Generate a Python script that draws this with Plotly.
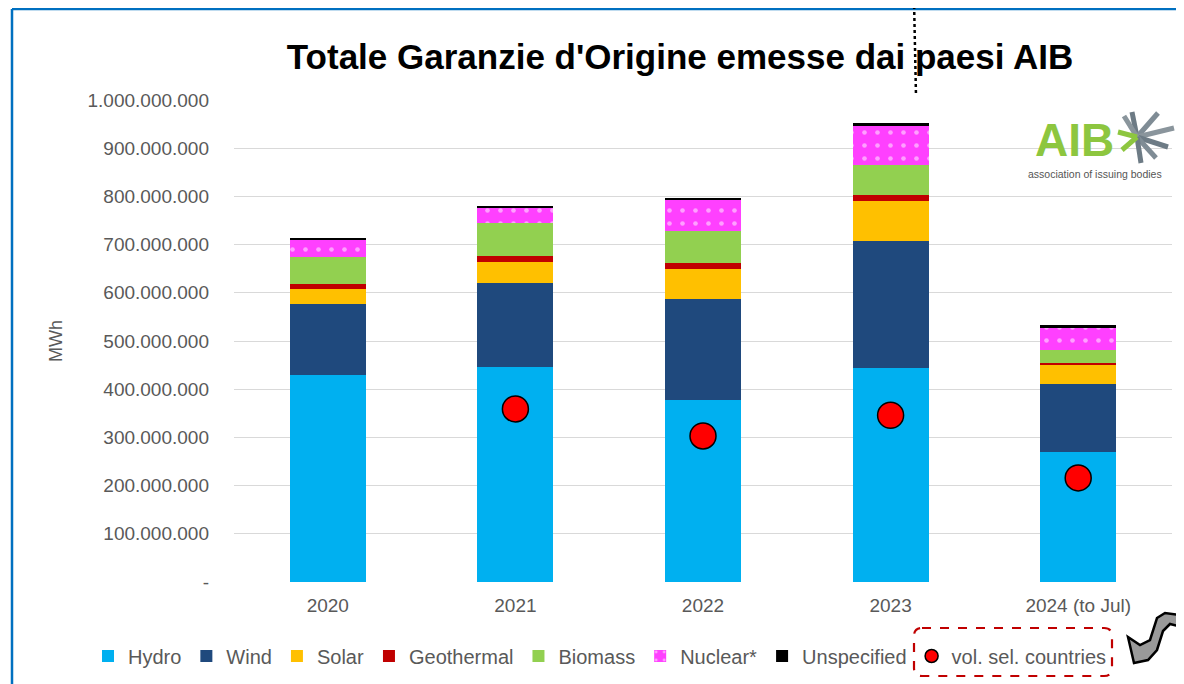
import plotly.graph_objects as go

years = ["2020", "2021", "2022", "2023", "2024 (to Jul)"]
hydro = [430e6, 446e6, 378e6, 444e6, 270e6]
wind = [147e6, 174e6, 209e6, 263e6, 141e6]
solar = [31e6, 44e6, 62e6, 83e6, 41e6]
geothermal = [10e6, 12e6, 13e6, 13e6, 2e6]
biomass = [56e6, 69e6, 66e6, 62e6, 27e6]
nuclear = [36e6, 31e6, 65e6, 81e6, 48e6]
unspecified = [4e6, 4e6, 4e6, 6e6, 4e6]
sel_years = ["2021", "2022", "2023", "2024 (to Jul)"]
sel_countries = [359e6, 303e6, 346e6, 216e6]
tick_vals = [0, 1e8, 2e8, 3e8, 4e8, 5e8, 6e8, 7e8, 8e8, 9e8, 1e9]
tick_text = ["-", "100.000.000", "200.000.000", "300.000.000", "400.000.000",
             "500.000.000", "600.000.000", "700.000.000", "800.000.000",
             "900.000.000", "1.000.000.000"]

# page offset (body margin of the html page)
OFF = 8
PW, PH = 1184, 684
W, H = PW - OFF, PH - OFF
L, R, T, B = 234, 1172, 100, 582   # plot area in page pixels

def xp(px):
    return (px - L) / (R - L)

def yp(py):
    return (B - py) / (B - T)

FONT = "Liberation Sans, Arial, sans-serif"
GREY = "#595959"

fig = go.Figure()
series = [
    ("Hydro", hydro, "#00B0F0"),
    ("Wind", wind, "#1F497D"),
    ("Solar", solar, "#FFC000"),
    ("Geothermal", geothermal, "#C00000"),
    ("Biomass", biomass, "#92D050"),
    ("Nuclear*", nuclear, "#FF40FF"),
    ("Unspecified", unspecified, "#000000"),
]
for name, vals, col in series:
    marker = dict(color=col, line=dict(width=0))
    if name == "Nuclear*":
        marker["pattern"] = dict(shape=".", fgcolor="white", bgcolor=col, size=13, solidity=0.1)
    fig.add_trace(go.Bar(x=years, y=vals, name=name, marker=marker, hoverinfo="skip"))

fig.add_trace(go.Scatter(x=sel_years, y=sel_countries, mode="markers", showlegend=False,
                         marker=dict(size=26, color="#FF0000", line=dict(color="black", width=1.5))))
fig.add_trace(go.Scatter(x=[None], y=[None], mode="markers", name="vol. sel. countries",
                         marker=dict(size=13, color="#FF0000", line=dict(color="black", width=1.5))))

fig.update_layout(
    width=W, height=H,
    margin=dict(l=L - OFF, r=PW - R, t=T - OFF, b=PH - B, pad=0, autoexpand=False),
    barmode="stack", bargap=0.595,
    plot_bgcolor="white", paper_bgcolor="white",
    font=dict(family=FONT, size=18, color=GREY),
    title=dict(text="<b>Totale Garanzie d'Origine emesse dai paesi AIB</b>",
               x=(680 - OFF) / W, xanchor="center", y=1 - (57 - OFF) / H, yanchor="middle",
               font=dict(family=FONT, size=35, color="black")),
    xaxis=dict(showgrid=False, showline=False, ticks="", ticklabelstandoff=10,
               tickfont=dict(size=19, color=GREY)),
    yaxis=dict(range=[0, 1e9], tickvals=tick_vals, ticktext=tick_text, showgrid=True,
               gridcolor="#D9D9D9", gridwidth=1.3, zeroline=False, ticks="",
               ticklabelstandoff=24, tickfont=dict(size=19, color=GREY),
               title=dict(text="MWh", font=dict(size=18, color=GREY), standoff=20)),
    legend=dict(orientation="h", xref="paper", yref="paper",
                x=xp(88), xanchor="left", y=yp(656), yanchor="middle",
                traceorder="normal", font=dict(size=20, color=GREY), itemwidth=30,
                bgcolor="rgba(0,0,0,0)"),
)

shapes = []
# blue frame
shapes.append(dict(type="line", xref="paper", yref="paper", x0=xp(12), x1=xp(1190), y0=yp(9), y1=yp(9),
                   line=dict(color="#0070C0", width=2.5)))
shapes.append(dict(type="line", xref="paper", yref="paper", x0=xp(12), x1=xp(12), y0=yp(9), y1=yp(690),
                   line=dict(color="#0070C0", width=2.5)))
# dotted vertical line
shapes.append(dict(type="line", xref="paper", yref="paper", x0=xp(914), x1=xp(916), y0=yp(0), y1=yp(96),
                   line=dict(color="black", width=2.5, dash="dot")))
# dashed rounded box around last legend item
x0, x1, y0, y1, r = xp(914), xp(1112), yp(628), yp(676), 8
rx, ry = r / (R - L), r / (B - T)
path = (f"M{x0+rx},{y0} L{x1-rx},{y0} Q{x1},{y0} {x1},{y0-ry} L{x1},{y1+ry} Q{x1},{y1} {x1-rx},{y1} "
        f"L{x0+rx},{y1} Q{x0},{y1} {x0},{y1+ry} L{x0},{y0-ry} Q{x0},{y0} {x0+rx},{y0} Z")
shapes.append(dict(type="path", xref="paper", yref="paper", path=path,
                   line=dict(color="#C00000", width=2.2, dash="dash")))
# logo starburst
cx, cy = 1137, 137
rays = [((1132, 112), "#6D7B85"), ((1158, 113), "#7F8C95"), ((1174, 128), "#8A959C"),
        ((1168, 147), "#6D7B85"), ((1156, 158), "#7F8C95"), ((1141, 163), "#6D7B85"),
        ((1124, 116), "#8A959C"), ((1118, 132), "#8DC63F"), ((1122, 150), "#8DC63F")]
for (ex, ey), col in rays:
    shapes.append(dict(type="line", xref="paper", yref="paper", x0=xp(cx), y0=yp(cy), x1=xp(ex), y1=yp(ey),
                       line=dict(color=col, width=5)))
# curled-paper squiggle bottom right
top_edge = [(1128, 637), (1140, 645), (1150, 640), (1157, 618), (1165, 613), (1186, 616)]
bot_edge = [(1186, 628), (1170, 624), (1163, 631), (1157, 650), (1148, 660), (1134, 663)]
sp = "M" + " L".join(f"{xp(a)},{yp(b)}" for a, b in top_edge + bot_edge) + " Z"
shapes.append(dict(type="path", xref="paper", yref="paper", path=sp, fillcolor="#9A9A9A",
                   line=dict(color="black", width=2.5)))
fig.update_layout(shapes=shapes)

fig.add_annotation(text="<b>AIB</b>", xref="paper", yref="paper", x=xp(1074), y=yp(140),
                   xanchor="center", yanchor="middle", showarrow=False,
                   font=dict(family=FONT, size=46, color="#8DC63F"))
fig.add_annotation(text="association of issuing bodies", xref="paper", yref="paper", x=xp(1095), y=yp(174),
                   xanchor="center", yanchor="middle", showarrow=False,
                   font=dict(family=FONT, size=10.5, color="#555555"))

fig.write_html("out.html")
